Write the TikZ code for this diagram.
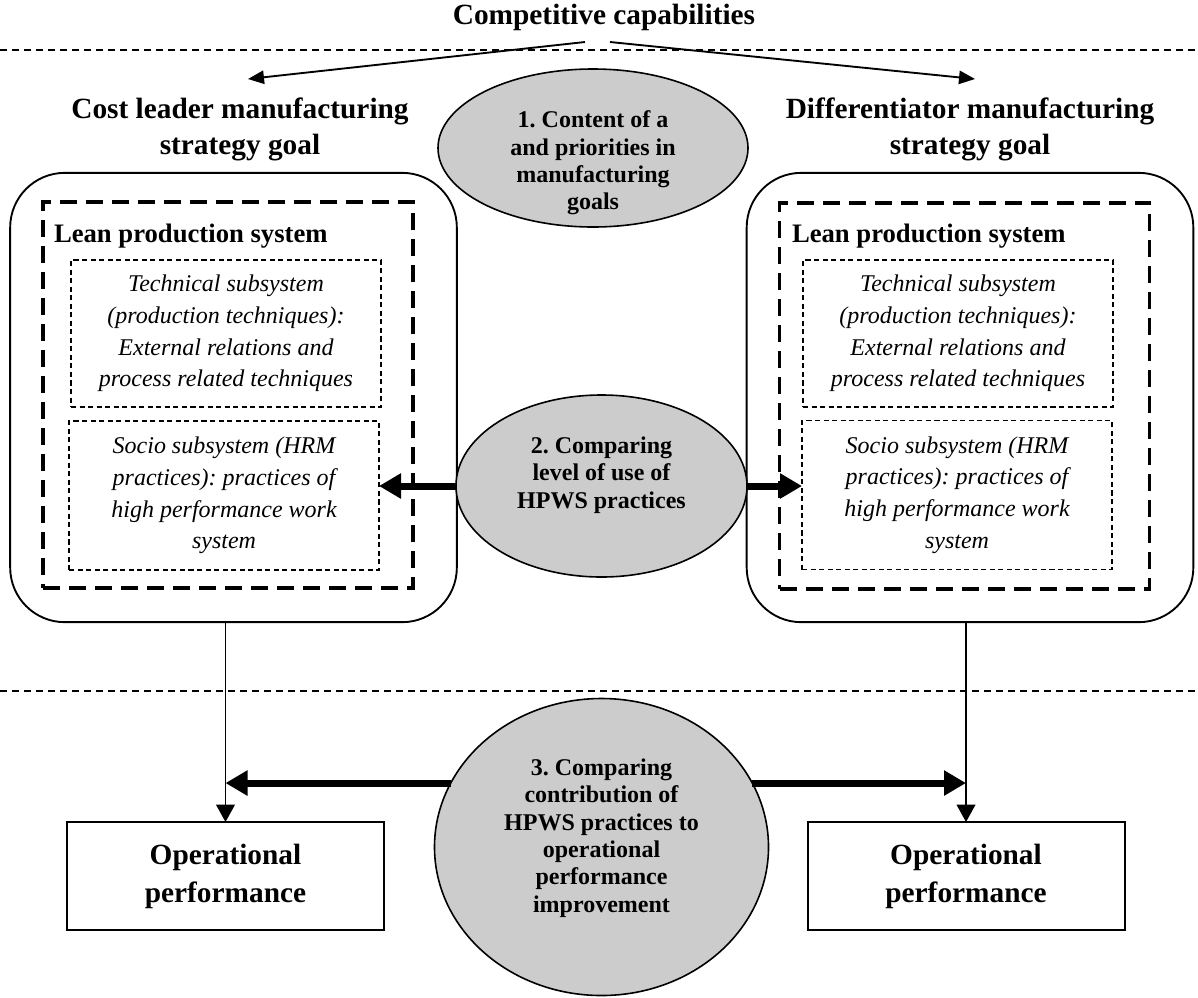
\documentclass[tikz,border=0pt]{standalone}
\usepackage{fontspec}
\setmainfont{Liberation Serif}
\usetikzlibrary{shapes.geometric,arrows.meta}
\definecolor{ellgray}{RGB}{204,204,204}
\newcommand\fHead{\fontsize{22}{27}\selectfont\bfseries\frenchspacing}
\newcommand\fLean{\fontsize{20}{24}\selectfont\bfseries\frenchspacing}
\newcommand\fEll{\fontsize{18}{20.5}\selectfont\bfseries\frenchspacing}
\newcommand\fSub{\fontsize{18}{23.8}\selectfont\itshape\frenchspacing}
\newcommand\fOp{\fontsize{22}{28.5}\selectfont\bfseries\frenchspacing}
\begin{document}
\begin{tikzpicture}[x=0.75pt,y=-0.75pt,
  every node/.style={inner sep=0pt, outer sep=0pt},
  rbox/.style={draw, line width=1.4pt, rounded corners=41pt, minimum width=335pt, minimum height=337pt},
  leanbox/.style={draw, line width=2.3pt, dash pattern=on 12.75pt off 6.75pt, minimum width=277.5pt, minimum height=289.5pt},
  subbox/.style={draw, line width=1pt, dash pattern=on 3.8pt off 2.6pt, minimum width=232.5pt, align=center, font=\fSub},
  opbox/.style={draw, line width=1.5pt, minimum width=237.75pt, minimum height=81pt, align=center, font=\fOp},
  ell/.style={ellipse, draw, fill=ellgray, line width=1.2pt},
  elltext/.style={align=center, font=\fEll},
  head/.style={align=center, font=\fHead},
  leantitle/.style={anchor=base west, font=\fLean},
  sepline/.style={line width=1.3pt, dash pattern=on 5.25pt off 3.75pt},
  thinarrow/.style={line width=1.4pt, -{Triangle[length=12pt,width=10pt]}},
  downarrow/.style={line width=1.25pt, -{Triangle[length=13pt,width=14pt]}},
  bigarrow/.style={line width=5.25pt, -{Triangle[length=16.5pt,width=18pt]}},
]
\useasboundingbox (0,0) rectangle (1198,997);

% title and separators
\node[font=\fHead] (title) at (604,17) {Competitive capabilities};
\draw[sepline] (0,50) -- (1198,50);
\draw[sepline] (0,691) -- (1198,691);

% headings
\node[head] (hL) at (240,129) {Cost leader manufacturing\\strategy goal};
\node[head] (hR) at (970,129) {Differentiator manufacturing\\strategy goal};
\coordinate (tA) at (585,42);
\coordinate (tB) at (610,42);
\coordinate (hLtip) at (248,79);
\coordinate (hRtip) at (975,79);
\draw[thinarrow] (tA) -- (hLtip);
\draw[thinarrow] (tB) -- (hRtip);

% strategy boxes
\node[rbox] (cbL) at (233.5,397.5) {};
\node[rbox] (cbR) at (970,397.5) {};
\node[leanbox] (lpL) at (228,395) {};
\node[leanbox] (lpR) at (964.5,396) {};
\node[leantitle] (ltL) at (54,242) {Lean production system};
\node[leantitle] (ltR) at (792,242) {Lean production system};
\node[subbox, minimum height=110.25pt] (tsL) at (226,333.5) {Technical subsystem\\(production techniques):\\External relations and\\process related techniques};
\node[subbox, minimum height=111.75pt] (ssL) at (224,495.5) {Socio subsystem (HRM\\practices): practices of\\high performance work\\system};
\node[subbox, minimum height=110.25pt] (tsR) at (958,333.5) {Technical subsystem\\(production techniques):\\External relations and\\process related techniques};
\node[subbox, minimum height=111.75pt] (ssR) at (957,495) {Socio subsystem (HRM\\practices): practices of\\high performance work\\system};

% ellipse 1
\node[ell, minimum width=232.5pt, minimum height=118.5pt] (e1) at (593,148) {};
\node[elltext] (e1t) at (593,163) {1. Content of a\\and priorities in\\manufacturing\\goals};

% ellipse 2
\node[ell, minimum width=218.25pt, minimum height=136.5pt] (e2) at (601.5,486) {};
\node[elltext] (e2t) at (601.5,475) {2. Comparing\\level of use of\\HPWS practices};
\draw[bigarrow] (e2.west) -- (e2.west -| ssL.east);
\draw[bigarrow] (e2.east) -- (e2.east -| ssR.west);

% operational performance
\node[opbox] (opL) at (225.5,876) {Operational\\performance};
\node[opbox] (opR) at (966,876) {Operational\\performance};
\draw[downarrow] (cbL.south -| opL.north) -- (opL.north);
\draw[downarrow] (cbR.south -| opR.north) -- (opR.north);

% ellipse 3
\node[ell, minimum width=250.5pt, minimum height=222.75pt] (e3) at (601.5,847) {};
\node[elltext] (e3t) at (601.5,838) {3. Comparing\\contribution of\\HPWS practices to\\operational\\performance\\improvement};
\draw[bigarrow] (e3.157) -- (e3.157 -| opL.north);
\draw[bigarrow] (e3.23) -- (e3.23 -| opR.north);
\end{tikzpicture}
\end{document}
